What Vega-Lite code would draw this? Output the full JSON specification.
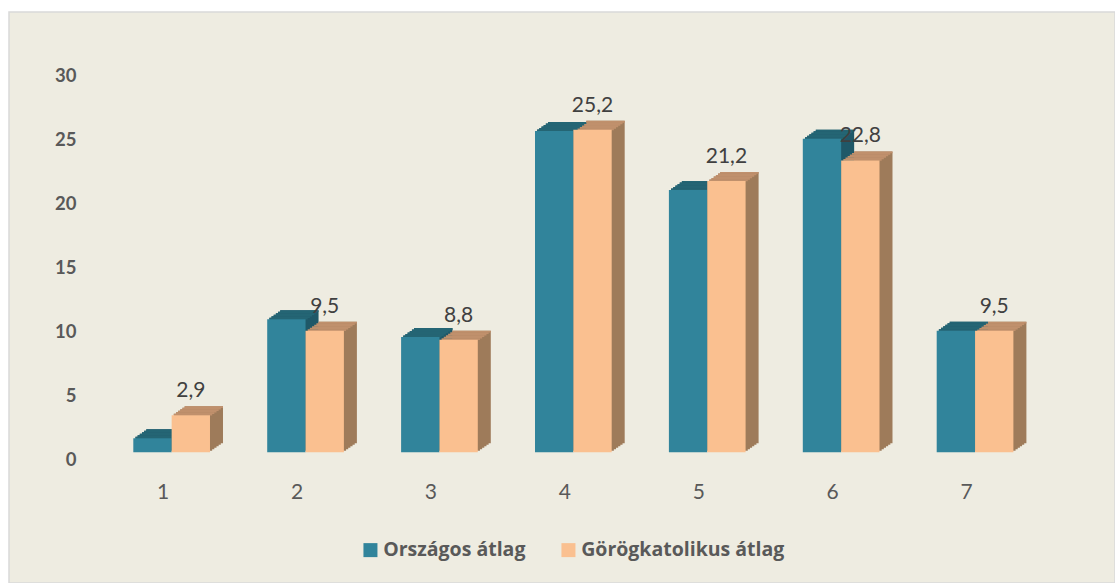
{
  "$schema": "https://vega.github.io/schema/vega-lite/v6.json",
  "width": 1106,
  "height": 571,
  "autosize": {"type": "none"},
  "padding": {"left": 9, "top": 12, "right": 0, "bottom": 0},
  "background": "#FFFFFF",
  "config": {
    "view": {"fill": "#EEECE1", "stroke": "#D9D9D9", "strokeWidth": 1.5},
    "locale": {"number": {"decimal": ",", "thousands": " ", "grouping": [3], "currency": ["", " Ft"]}},
    "font": "Lato"
  },
  "data": {
    "values": [
      {"cat": "1", "series": "Országos átlag", "value": 1.1},
      {"cat": "2", "series": "Országos átlag", "value": 10.4},
      {"cat": "3", "series": "Országos átlag", "value": 9.0},
      {"cat": "4", "series": "Országos átlag", "value": 25.1},
      {"cat": "5", "series": "Országos átlag", "value": 20.5},
      {"cat": "6", "series": "Országos átlag", "value": 24.5},
      {"cat": "7", "series": "Országos átlag", "value": 9.5},
      {"cat": "1", "series": "Görögkatolikus átlag", "value": 2.9},
      {"cat": "2", "series": "Görögkatolikus átlag", "value": 9.5},
      {"cat": "3", "series": "Görögkatolikus átlag", "value": 8.8},
      {"cat": "4", "series": "Görögkatolikus átlag", "value": 25.2},
      {"cat": "5", "series": "Görögkatolikus átlag", "value": 21.2},
      {"cat": "6", "series": "Görögkatolikus átlag", "value": 22.8},
      {"cat": "7", "series": "Görögkatolikus átlag", "value": 9.5}
    ]
  },
  "encoding": {
    "x": {
      "field": "cat", "type": "nominal",
      "scale": {"range": [95.7, 1033], "paddingInner": 0.427, "paddingOuter": 0.2135},
      "axis": {"title": null, "orient": "bottom", "offset": -85, "domain": false, "ticks": false, "tickSize": 0,
               "labelPadding": 0, "labelBaseline": "alphabetic", "labelAngle": 0, "labelFont": "Lato",
               "labelFontSize": 21, "labelColor": "#595959", "labelOffset": -8.5}
    },
    "y": {
      "field": "value", "type": "quantitative", "stack": null,
      "scale": {"domain": [0, 30], "range": [440.3, 56.3], "nice": false},
      "axis": {"title": null, "values": [0, 5, 10, 15, 20, 25, 30], "grid": false, "domain": false, "ticks": false,
               "tickSize": 0, "labelPadding": 0, "offset": -67, "labelFont": "Lato", "labelFontWeight": "bold",
               "labelFontSize": 18.5, "labelColor": "#595959", "labelOffset": 7, "labelAlign": "right", "labelBaseline": "middle"}
    }
  },
  "layer": [
    {"mark": {"type": "bar", "width": 38.35, "xOffset": {"expr": "datum.series === 'Országos átlag' ? -17.0 : 21.34"}, "yOffset": -1.5, "y2Offset": -1.5},
     "encoding": {"y2": {"datum": 0}, "color": {"condition": {"test": "datum.series === 'Országos átlag'", "value": "#1F5868"}, "value": "#9E7B5A"}}},
    {"mark": {"type": "bar", "width": 38.35, "xOffset": {"expr": "datum.series === 'Országos átlag' ? -14.84 : 23.5"}, "yOffset": -3, "y2Offset": -3},
     "encoding": {"y2": {"datum": 0}, "color": {"condition": {"test": "datum.series === 'Országos átlag'", "value": "#1F5868"}, "value": "#9E7B5A"}}},
    {"mark": {"type": "bar", "width": 38.35, "xOffset": {"expr": "datum.series === 'Országos átlag' ? -12.67 : 25.67"}, "yOffset": -4.5, "y2Offset": -4.5},
     "encoding": {"y2": {"datum": 0}, "color": {"condition": {"test": "datum.series === 'Országos átlag'", "value": "#1F5868"}, "value": "#9E7B5A"}}},
    {"mark": {"type": "bar", "width": 38.35, "xOffset": {"expr": "datum.series === 'Országos átlag' ? -10.5 : 27.84"}, "yOffset": -6, "y2Offset": -6},
     "encoding": {"y2": {"datum": 0}, "color": {"condition": {"test": "datum.series === 'Országos átlag'", "value": "#1F5868"}, "value": "#9E7B5A"}}},
    {"mark": {"type": "bar", "width": 38.35, "xOffset": {"expr": "datum.series === 'Országos átlag' ? -8.34 : 30.0"}, "yOffset": -7.5, "y2Offset": -7.5},
     "encoding": {"y2": {"datum": 0}, "color": {"condition": {"test": "datum.series === 'Országos átlag'", "value": "#1F5868"}, "value": "#9E7B5A"}}},
    {"mark": {"type": "bar", "width": 38.35, "xOffset": {"expr": "datum.series === 'Országos átlag' ? -6.17 : 32.17"}, "yOffset": -9, "y2Offset": -9},
     "encoding": {"y2": {"datum": 0}, "color": {"condition": {"test": "datum.series === 'Országos átlag'", "value": "#1F5868"}, "value": "#9E7B5A"}}},
    {"mark": {"type": "bar", "width": 38.35, "xOffset": {"expr": "datum.series === 'Országos átlag' ? -17.0 : 21.34"}, "yOffset": -1.5, "y2Offset": 0.4},
     "encoding": {"y2": {"field": "value"}, "color": {"condition": {"test": "datum.series === 'Országos átlag'", "value": "#246574"}, "value": "#C0906C"}}},
    {"mark": {"type": "bar", "width": 38.35, "xOffset": {"expr": "datum.series === 'Országos átlag' ? -14.84 : 23.5"}, "yOffset": -3, "y2Offset": -1.1},
     "encoding": {"y2": {"field": "value"}, "color": {"condition": {"test": "datum.series === 'Országos átlag'", "value": "#246574"}, "value": "#C0906C"}}},
    {"mark": {"type": "bar", "width": 38.35, "xOffset": {"expr": "datum.series === 'Országos átlag' ? -12.67 : 25.67"}, "yOffset": -4.5, "y2Offset": -2.6},
     "encoding": {"y2": {"field": "value"}, "color": {"condition": {"test": "datum.series === 'Országos átlag'", "value": "#246574"}, "value": "#C0906C"}}},
    {"mark": {"type": "bar", "width": 38.35, "xOffset": {"expr": "datum.series === 'Országos átlag' ? -10.5 : 27.84"}, "yOffset": -6, "y2Offset": -4.1},
     "encoding": {"y2": {"field": "value"}, "color": {"condition": {"test": "datum.series === 'Országos átlag'", "value": "#246574"}, "value": "#C0906C"}}},
    {"mark": {"type": "bar", "width": 38.35, "xOffset": {"expr": "datum.series === 'Országos átlag' ? -8.34 : 30.0"}, "yOffset": -7.5, "y2Offset": -5.6},
     "encoding": {"y2": {"field": "value"}, "color": {"condition": {"test": "datum.series === 'Országos átlag'", "value": "#246574"}, "value": "#C0906C"}}},
    {"mark": {"type": "bar", "width": 38.35, "xOffset": {"expr": "datum.series === 'Országos átlag' ? -6.17 : 32.17"}, "yOffset": -9, "y2Offset": -7.1},
     "encoding": {"y2": {"field": "value"}, "color": {"condition": {"test": "datum.series === 'Országos átlag'", "value": "#246574"}, "value": "#C0906C"}}},
    {"mark": {"type": "bar", "width": 38.35, "xOffset": {"expr": "datum.series === 'Országos átlag' ? -19.17 : 19.17"}},
     "encoding": {
       "y2": {"datum": 0},
       "color": {
         "field": "series", "type": "nominal",
         "scale": {"domain": ["Országos átlag", "Görögkatolikus átlag"], "range": ["#31849B", "#FAC090"]},
         "legend": {"title": null, "orient": "none", "legendX": 351.7, "legendY": 528, "direction": "horizontal",
                    "symbolType": "square", "symbolSize": 196, "symbolStrokeWidth": 0, "labelFont": "Open Sans",
                    "labelFontWeight": "bold", "labelFontSize": 19.5, "labelColor": "#595959", "labelOffset": 3,
                    "columnPadding": 33, "labelLimit": 400, "padding": 0}
       }
     }},
    {"transform": [{"filter": "datum.series === 'Görögkatolikus átlag'"}],
     "mark": {"type": "text", "xOffset": 19.17, "yOffset": -18, "baseline": "alphabetic", "align": "center", "fontSize": 21, "font": "Lato", "color": "#404040"},
     "encoding": {"text": {"field": "value", "type": "quantitative", "format": ".1f"}}}
  ]
}
